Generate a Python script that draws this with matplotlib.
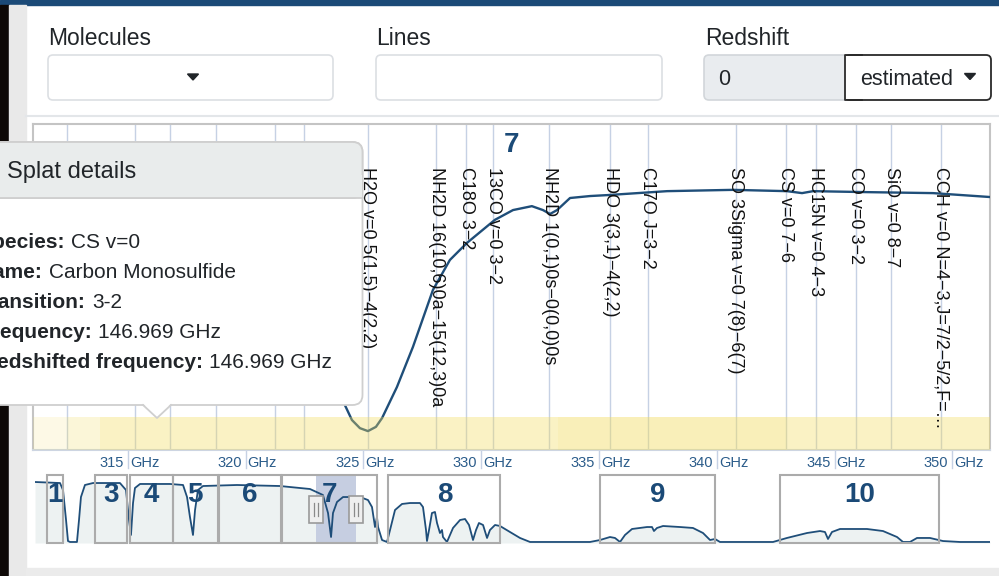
import matplotlib
matplotlib.use('Agg')
import matplotlib.pyplot as plt
from matplotlib.patches import FancyBboxPatch, Rectangle, Polygon

W, H = 999, 576

# --- data ---
view_range = (310.97, 351.6)           # GHz shown in the zoomed chart
tick_freqs = [315, 320, 325, 330, 335, 340, 345, 350]

# atmospheric transmission in the zoomed view (visible part only)
main_freq = [323.92, 324.21, 324.51, 324.85, 325.19, 325.53, 325.79, 326.42, 327.10,
             327.95, 328.67, 329.39, 330.58, 331.35, 332.15, 332.62, 332.92, 333.22,
             333.77, 334.62, 335.38, 337.89, 340.69, 342.98, 343.62, 344.09, 346.38,
             349.18, 351.60]
main_trans = [0.200, 0.138, 0.092, 0.067, 0.058, 0.071, 0.098, 0.193, 0.316,
              0.491, 0.583, 0.635, 0.706, 0.736, 0.748, 0.736, 0.724, 0.736,
              0.773, 0.779, 0.782, 0.794, 0.798, 0.794, 0.788, 0.794, 0.791,
              0.788, 0.776]

line_freqs = [325.19, 328.09, 329.36, 330.50, 332.88, 335.47, 337.08, 340.80,
              342.92, 344.20, 345.90, 347.40, 349.52]
line_labels = ["H2O v=0 5(1,5)\u22124(2,2)",
               "NH2D 16(10,6)0a\u221215(12,3)0a",
               "C18O 3\u22122",
               "13CO v=0 3\u22122",
               "NH2D 1(0,1)0s\u22120(0,0)0s",
               "HDO 3(3,1)\u22124(2,2)",
               "C17O J=3\u22122",
               "SO 3Sigma v=0 7(8)\u22126(7)",
               "CS v=0 7\u22126",
               "HC15N v=0 4\u22123",
               "CO v=0 3\u22122",
               "SiO v=0 8\u22127",
               "CCH v=0 N=4\u22123,J=7/2\u22125/2,F=\u2026"]
hidden_line_freqs = [312.41, 315.30, 316.78, 318.74, 321.24, 322.47]

sens_lo = [310.97, 312.41, 313.81, 333.26, 342.98]
sens_hi = [312.41, 313.81, 333.26, 342.98, 351.60]
sens_alpha = [0.15, 0.24, 0.36, 0.43, 0.36]

# overview: whole ALMA range
ov_freq = [22.6, 48.2, 51.3, 54.4, 56.4, 58.5, 65.6, 67.7, 69.7, 73.8, 82.1, 109.7,
           115.9, 119.0, 121.0, 123.1, 125.1, 130.3, 161.0, 174.4, 178.5, 181.5,
           184.6, 186.7, 189.7, 194.9, 229.7, 273.8, 304.6, 317.9, 323.1, 326.2,
           328.2, 332.3, 338.5, 355.9, 364.1, 368.2, 371.3, 373.3, 374.4, 378.5,
           383.6, 386.7, 391.8, 399.0, 407.2, 417.4, 420.5, 423.6, 424.6, 426.7,
           429.7, 432.8, 434.9, 437.9, 440.0, 441.0, 445.1, 451.3, 458.5, 463.6,
           467.7, 471.8, 474.9, 477.9, 482.1, 486.2, 489.2, 494.4, 499.5, 509.7,
           520.0, 530.3, 591.8, 602.1, 612.3, 617.4, 622.6, 627.7, 634.9, 650.3,
           655.4, 657.4, 660.5, 666.7, 684.1, 697.4, 707.7, 714.9, 720.0, 725.1,
           779.5, 793.8, 814.4, 827.7, 832.8, 835.9, 840.0, 848.2, 861.5, 875.9,
           892.3, 906.7, 912.8, 920.0, 927.2, 940.5, 953.8, 971.3, 1002.1]
ov_trans = [0.897, 0.882, 0.779, 0.338, 0.029, 0.015, 0.015, 0.338, 0.676, 0.853, 0.882, 0.882,
            0.779, 0.338, 0.118, 0.588, 0.809, 0.868, 0.868, 0.853, 0.676, 0.382,
            0.118, 0.485, 0.779, 0.838, 0.853, 0.838, 0.794, 0.706, 0.441, 0.088,
            0.441, 0.603, 0.676, 0.676, 0.632, 0.529, 0.235, 0.382, 0.235, 0.044,
            0.015, 0.191, 0.485, 0.574, 0.588, 0.588, 0.529, 0.191, 0.029, 0.191,
            0.441, 0.456, 0.294, 0.147, 0.191, 0.088, 0.015, 0.221, 0.338, 0.353,
            0.265, 0.044, 0.191, 0.294, 0.265, 0.074, 0.191, 0.265, 0.250, 0.162,
            0.074, 0.015, 0.015, 0.044, 0.088, 0.074, 0.015, 0.118, 0.206, 0.235,
            0.235, 0.176, 0.221, 0.250, 0.235, 0.221, 0.147, 0.044, 0.059, 0.015,
            0.015, 0.074, 0.147, 0.176, 0.162, 0.059, 0.162, 0.206, 0.206, 0.206,
            0.176, 0.088, 0.015, 0.015, 0.074, 0.074, 0.029, 0.015, 0.015]

band_names = ["1", "3", "4", "5", "6", "7", "8", "9", "10"]
band_lo = [35, 84, 120, 164, 211, 276, 385, 602, 787]
band_hi = [51, 117, 164, 210, 275, 373, 500, 720, 950]

tooltip_keys = ["Species:", "Name:", "Transition:", "Frequency:", "Redshifted frequency:"]
tooltip_vals = ["CS v=0", "Carbon Monosulfide", "3-2", "146.969 GHz", "146.969 GHz"]

NAVY = '#1b4a77'
CURVE = '#1f4e79'
LINECOL = '#c6d1e4'
TEXT = '#212529'


def px_rect(x0, y0, x1, y1):
    return [x0 / W, 1 - y1 / H, (x1 - x0) / W, (y1 - y0) / H]


def pixel_axes(z):
    a = fig.add_axes([0, 0, 1, 1], zorder=z)
    a.set_xlim(0, W)
    a.set_ylim(H, 0)
    a.axis('off')
    return a


plt.rcParams['font.family'] = ['Liberation Sans', 'DejaVu Sans']
fig = plt.figure(figsize=(W / 100, H / 100), dpi=100, facecolor='white')

# ---------------- page background and form ----------------
ui = pixel_axes(0)

ui.add_patch(Rectangle((0, 0), W, 5, color=NAVY))
ui.add_patch(Rectangle((0, 5), 9, H, color='#0e0907'))
ui.add_patch(Rectangle((9, 5), 17, H, color='#e9e9e9'))
ui.add_patch(Rectangle((26, 568), W, 10, color='#ebebeb'))
ui.plot([26, W], [115.5, 115.5], color='#e3e6e9', lw=1.5)

ui.text(48, 45, "Molecules", fontsize=16.5, color=TEXT, va='baseline')
ui.text(376, 45, "Lines", fontsize=16.5, color=TEXT, va='baseline')
ui.text(705, 45, "Redshift", fontsize=16.5, color=TEXT, va='baseline')

for x0, x1 in [(48, 333), (376, 662)]:
    ui.add_patch(FancyBboxPatch((x0, 55), x1 - x0, 45, boxstyle="round,pad=0,rounding_size=5",
                                fc='white', ec='#dcdfe3', lw=1.2))
ui.add_patch(Polygon([(187.5, 74), (198.5, 74), (193, 80)], closed=True, color=TEXT))

# redshift input + dropdown button
ui.add_patch(FancyBboxPatch((704, 55), 160, 45, boxstyle="round,pad=0,rounding_size=5",
                            fc='#e9ecef', ec='#d2d6da', lw=1.2))
ui.add_patch(FancyBboxPatch((845, 55), 146, 45, boxstyle="round,pad=0,rounding_size=5",
                            fc='white', ec='#2a2a2a', lw=1.3, zorder=3))
ui.add_patch(Rectangle((844, 56), 18, 43, fc='white', ec='none', zorder=4))
ui.plot([862, 845, 845, 862], [55, 55, 100, 100], color='#2a2a2a', lw=1.3, zorder=5)
ui.text(718, 85, "0", fontsize=15.5, color=TEXT, va='baseline')
ui.text(860, 85, "estimated", fontsize=15.5, color=TEXT, va='baseline', zorder=6)
ui.add_patch(Polygon([(964.5, 73.5), (975.5, 73.5), (970, 79.5)], closed=True, color=TEXT, zorder=6))

# ---------------- zoomed spectrum ----------------
ax = fig.add_axes(px_rect(33, 124, 990, 450), zorder=1)
ax.set_xlim(*view_range)
ax.set_ylim(0, 1)
ax.set_xticks([])
ax.set_yticks([])
for s in ax.spines.values():
    s.set_color('#c4c4c4')
    s.set_linewidth(1.5)
ax.spines['bottom'].set_color('#cdd5e2')

for f in hidden_line_freqs + line_freqs:
    ax.axvline(f, color=LINECOL, lw=1.0, zorder=1)

ax.plot(main_freq, main_trans, color=CURVE, lw=1.7, zorder=3)

for lo, hi, a in zip(sens_lo, sens_hi, sens_alpha):
    ax.axvspan(lo, hi, ymin=0, ymax=33 / 326, color='#f2dc5d', alpha=a, lw=0, zorder=4)

for f, lab in zip(line_freqs, line_labels):
    ax.text(f, 0.868, lab, rotation=-90, ha='center', va='top', fontsize=13,
            color='#111111', transform=ax.get_xaxis_transform(), zorder=5)

ax.text(sum(view_range) / 2, 0.915, "7", fontsize=20, fontweight='bold', color=NAVY,
        ha='center', va='baseline', transform=ax.get_xaxis_transform())

for t in tick_freqs:
    ax.plot([t, t], [0, -0.055], color=LINECOL, lw=1.0, clip_on=False,
            transform=ax.get_xaxis_transform())
    ax.annotate(str(t), xy=(t, 0), xycoords=('data', 'axes fraction'), xytext=(-4, -17),
                textcoords='offset pixels', ha='right', va='baseline', fontsize=10.5, color='#2b5c8a')
    ax.annotate("GHz", xy=(t, 0), xycoords=('data', 'axes fraction'), xytext=(2, -17),
                textcoords='offset pixels', ha='left', va='baseline', fontsize=10.5, color='#2b5c8a')

# ---------------- overview strip ----------------
ov = fig.add_axes(px_rect(35, 475, 990, 543), zorder=1)
ov.set_xlim((35 - 13) / 0.975, (990 - 13) / 0.975)
ov.set_ylim(0, 1)
ov.axis('off')

ov.fill_between(ov_freq, ov_trans, 0, color='#edf2f2', lw=0, zorder=1)
ov.axvspan(view_range[0], view_range[1], color='#c6cee1', lw=0, zorder=2)
ov.plot(ov_freq, ov_trans, color=CURVE, lw=1.3, zorder=3)

for name, lo, hi in zip(band_names, band_lo, band_hi):
    ov.add_patch(Rectangle((lo, 0), hi - lo, 1, fill=False, ec='#ababab', lw=1.5,
                           clip_on=False, zorder=4))
    ov.text((lo + hi) / 2, 0.6, name, fontsize=20, fontweight='bold', color=NAVY,
            ha='center', va='baseline', zorder=5)

# drag handles at the edges of the current view
handles = pixel_axes(3)
for f in view_range:
    xc = 13 + 0.975 * f
    handles.add_patch(Rectangle((xc - 7, 496), 14, 27, fc='#efefef', ec='#9a9a9a', lw=1.2))
    handles.plot([xc - 1.8, xc - 1.8], [503, 516], color='#8a8a8a', lw=0.9)
    handles.plot([xc + 1.8, xc + 1.8], [503, 516], color='#8a8a8a', lw=0.9)

# ---------------- tooltip ----------------
tip = pixel_axes(5)

tip.add_patch(FancyBboxPatch((-30, 142), 392.5, 263, boxstyle="round,pad=0,rounding_size=10",
                             fc='white', ec='#cfcfcf', lw=1.3))
tip.add_patch(FancyBboxPatch((-30, 142), 392.5, 56, boxstyle="round,pad=0,rounding_size=10",
                             fc='#e9ecec', ec='#cfcfcf', lw=1.3))
tip.add_patch(Rectangle((-30, 175), 391.8, 23, fc='#e9ecec', ec='none'))
tip.plot([-30, 362.5], [198, 198], color='#cfcfcf', lw=1.3)
tip.add_patch(Polygon([(143, 403.5), (157, 418), (171, 403.5)], closed=True, fc='white', ec='none'))
tip.plot([143, 157, 171], [405, 418, 405], color='#cfcfcf', lw=1.3)
tip.text(7, 178, "Splat details", fontsize=17, color=TEXT, va='baseline')

# the tooltip runs off the left edge, so the keys are cut there as in the screenshot
key_end = [65, 43, 86, 92, 203]
baselines = [248, 278, 308, 338, 368]
for k, v, xe, yb in zip(tooltip_keys, tooltip_vals, key_end, baselines):
    tip.text(xe, yb, k, fontsize=15, fontweight='bold', color=TEXT, ha='right', va='baseline')
    tip.text(xe + 6, yb, v, fontsize=15, color=TEXT, ha='left', va='baseline')

fig.savefig('out.png', dpi=100, facecolor='white')
